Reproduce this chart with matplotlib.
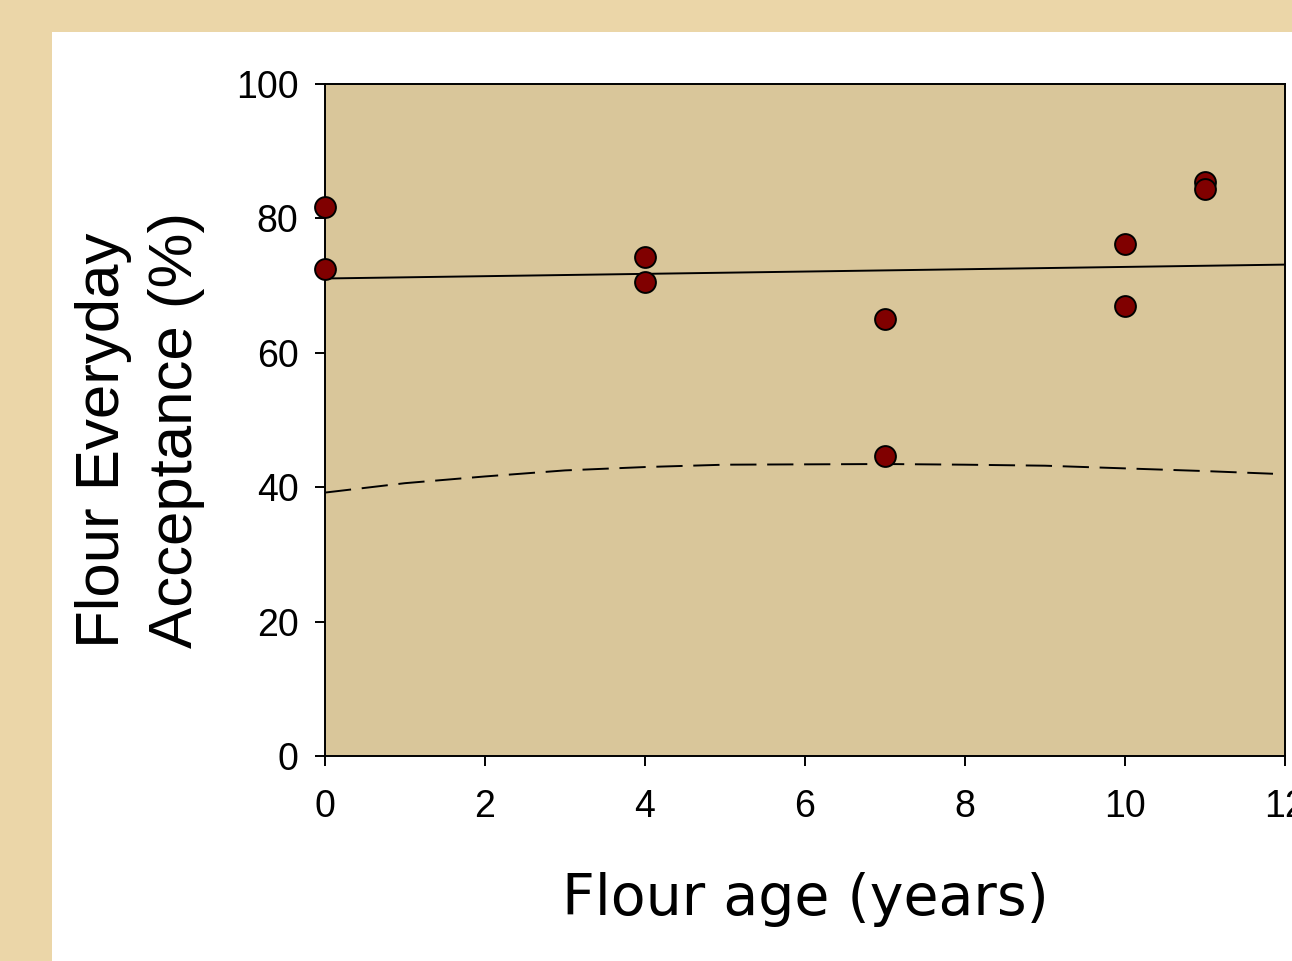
import numpy as np
import matplotlib
matplotlib.use("Agg")
import matplotlib.pyplot as plt
from matplotlib.patches import Rectangle

# flour age (years) and everyday acceptance (%) for each sample
age = [0, 0, 4, 4, 7, 7, 10, 10, 11, 11]
acceptance = [81.7, 72.5, 74.3, 70.5, 65.0, 44.6, 76.2, 67.0, 85.4, 84.4]

# lower acceptance curve (dashed)
curve_age = [0, 1, 2, 3, 4, 5, 6, 7, 8, 9, 10, 11, 11.85]
curve_acc = [39.2, 40.6, 41.6, 42.5, 43.0, 43.35, 43.4, 43.45, 43.35, 43.2, 42.8, 42.4, 42.0]

xticks = [0, 2, 4, 6, 8, 10, 12]
yticks = [0, 20, 40, 60, 80, 100]

fig = plt.figure(figsize=(12.92, 9.61), dpi=100)
fig.patch.set_facecolor("#EBD6A8")
# white slide panel, kept behind the axes
fig.patches.append(Rectangle((52 / 1292, 0), 1, 1 - 32 / 961, transform=fig.transFigure,
                             facecolor="white", edgecolor="none", zorder=-10))

ax = fig.add_axes([325 / 1292, 1 - 756 / 961, 960 / 1292, 672 / 961])
ax.set_zorder(1)
ax.set_facecolor("#D9C69A")

# linear trend through the samples
slope, icpt = np.polyfit(age, acceptance, 1)
xs = np.array([0, 12])
ax.plot(xs, icpt + slope * xs, color="black", lw=1.4, zorder=2)

ax.plot(curve_age, curve_acc, color="black", lw=1.4, dashes=(13.5, 5.5), zorder=2)

ax.scatter(age, acceptance, s=225, color="#800000", edgecolor="black",
           linewidth=1.4, zorder=3, clip_on=False)

ax.set_xlim(0, 12)
ax.set_ylim(0, 100)
ax.set_xticks(xticks)
ax.set_yticks(yticks)
for sp in ax.spines.values():
    sp.set_linewidth(1.4)
ax.tick_params(direction="out", length=7, width=1.4, labelsize=27)
ax.tick_params(axis="x", pad=17)
ax.tick_params(axis="y", pad=12)
for lab in ax.get_xticklabels() + ax.get_yticklabels():
    lab.set_family("Liberation Sans")

fig.text(805 / 1292, 1 - 915 / 961, "Flour age (years)", family="DejaVu Sans",
         fontsize=41, ha="center", va="baseline")
fig.text(140 / 1292, 1 - 648 / 961, "Flour Everyday\nAcceptance (%)",
         family="Liberation Sans", fontsize=44.5, rotation=90,
         ha="center", va="bottom", multialignment="left", linespacing=1.38)

fig.savefig("out.png", dpi=100, facecolor=fig.get_facecolor())
